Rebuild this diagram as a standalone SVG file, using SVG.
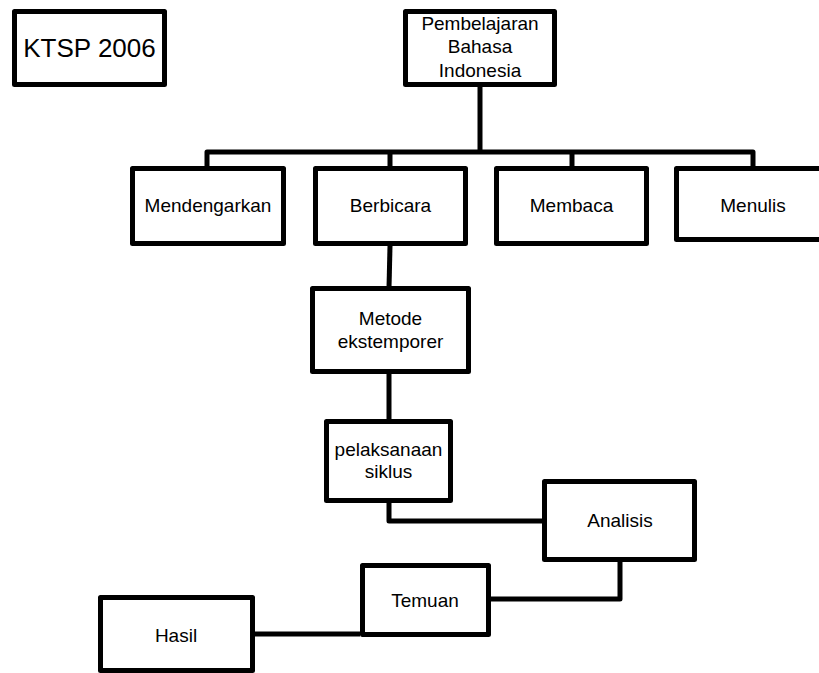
<svg xmlns="http://www.w3.org/2000/svg" width="819" height="673" viewBox="0 0 819 673">
<style>
.box{fill:#fff;stroke:#000;stroke-width:5;stroke-linejoin:round}
.ln{fill:none;stroke:#000;stroke-width:5;stroke-linejoin:round}
text{font-family:"Liberation Sans",Arial,sans-serif;font-size:19px;fill:#000;text-anchor:middle}
</style>
<rect width="819" height="673" fill="#fff"/>
<g id="connectors">
<path class="ln" d="M480,87 V152"/>
<path class="ln" d="M207,168 V152 H753 V168"/>
<path class="ln" d="M390,152 V168"/>
<path class="ln" d="M572,152 V168"/>
<path class="ln" d="M390,246 L389,288"/>
<path class="ln" d="M389,374 V421"/>
<path class="ln" d="M389,503 V521 H544"/>
<path class="ln" d="M620,562 V599 H491"/>
<path class="ln" d="M255,634 H360"/>
</g>
<g id="ktsp">
<rect class="box" x="14.5" y="11.5" width="150" height="73"/>
<text x="89.5" y="57" style="font-size:26px">KTSP 2006</text>
</g>
<g id="pembelajaran">
<rect class="box" x="405.5" y="11.5" width="149" height="73"/>
<text x="480" y="30">Pembelajaran</text>
<text x="480" y="53">Bahasa</text>
<text x="480" y="77">Indonesia</text>
</g>
<g id="mendengarkan">
<rect class="box" x="132.5" y="168.5" width="151" height="75"/>
<text x="208" y="212">Mendengarkan</text>
</g>
<g id="berbicara">
<rect class="box" x="315.5" y="168.5" width="150" height="75"/>
<text x="390.5" y="212">Berbicara</text>
</g>
<g id="membaca">
<rect class="box" x="496.5" y="168.5" width="150" height="75"/>
<text x="571.5" y="212">Membaca</text>
</g>
<g id="menulis">
<rect class="box" x="676.5" y="168.5" width="160" height="71"/>
<text x="753" y="212">Menulis</text>
</g>
<g id="metode">
<rect class="box" x="312.5" y="288.5" width="156" height="83"/>
<text x="390.5" y="325">Metode</text>
<text x="390.5" y="348">ekstemporer</text>
</g>
<g id="pelaksanaan">
<rect class="box" x="326.5" y="421.5" width="124" height="79"/>
<text x="388.5" y="456">pelaksanaan</text>
<text x="388.5" y="478">siklus</text>
</g>
<g id="analisis">
<rect class="box" x="544.5" y="481.5" width="150" height="78"/>
<text x="620" y="527">Analisis</text>
</g>
<g id="temuan">
<rect class="box" x="362.5" y="565.5" width="126" height="69"/>
<text x="425" y="607">Temuan</text>
</g>
<g id="hasil">
<rect class="box" x="100.5" y="597.5" width="152" height="73"/>
<text x="176" y="642">Hasil</text>
</g>
</svg>
